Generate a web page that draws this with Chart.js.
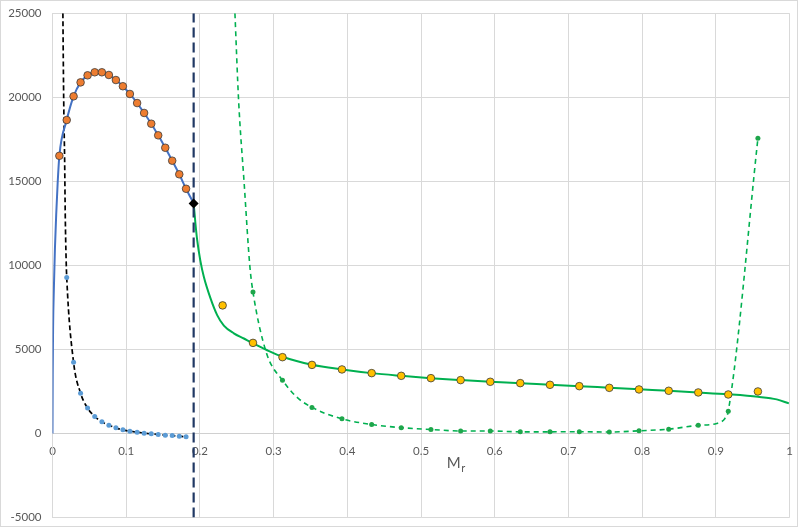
<!DOCTYPE html>
<html>
<head>
<meta charset="utf-8">
<script src="https://cdn.jsdelivr.net/npm/chart.js@4.4.1/dist/chart.umd.min.js"></script>
<style>
  body { margin: 0; background: #fff; }
  canvas { display: block; }
</style>
</head>
<body>
<canvas id="chart" width="800" height="528"></canvas>
<script>
// Punkte der ersten Kurve (orange) und der Ableitung (blau)
const xLeft = [0.0093, 0.0193, 0.0286, 0.0381, 0.0476, 0.0573, 0.0670, 0.0765, 0.0860, 0.0955,
  0.1050, 0.1148, 0.1243, 0.1340, 0.1434, 0.1530, 0.1624, 0.1720, 0.1812];
const orangeY = [16520, 18650, 20060, 20890, 21310, 21490, 21490, 21330, 21030, 20660,
  20200, 19660, 19070, 18430, 17740, 17000, 16230, 15420, 14560];
const blueDotX = xLeft.slice(1);
const blueDotY = [9280, 4230, 2400, 1510, 1010, 690, 494, 333, 214, 137,
  77, 18, -24, -60, -101, -125, -161, -202];

// Angepasste Kurve links (blau, durchgezogen)
const blueLineX = [0, 0.0003, 0.0008, 0.0019, 0.0033, 0.0050, 0.0070].concat(xLeft, [0.1915]);
const blueLineY = [0, 3500, 6300, 8700, 11000, 13000, 14900].concat(orangeY, [13690]);

// Schwarze gestrichelte Kurve
const blackDashX = [0.0141, 0.0148, 0.0156, 0.0164, 0.0173, 0.0184].concat(blueDotX);
const blackDashY = [25000, 21500, 18500, 16500, 13000, 10500].concat(blueDotY);

// Grenze
const boundaryX = 0.1915;
const boundaryY = 13690;

// Rechte Seite: gelbe Punkte und gruene Punkte
const xRight = [0.2308, 0.2720, 0.3120, 0.3520, 0.3927, 0.4330, 0.4731, 0.5134, 0.5537, 0.5939,
  0.6346, 0.6749, 0.7147, 0.7554, 0.7957, 0.8360, 0.8761, 0.9168, 0.9570];
const goldY = [7620, 5390, 4540, 4080, 3810, 3590, 3430, 3290, 3175, 3075,
  2995, 2895, 2815, 2715, 2620, 2540, 2440, 2320, 2500];
const greenDotX = xRight.slice(1);
const greenDotY = [8410, 3170, 1550, 870, 535, 345, 237, 147, 147, 97,
  97, 105, 87, 157, 256, 485, 1327, 17560];

// Gruene Kurve (durchgezogen)
const greenLineX = [0.1915, 0.1940, 0.1963, 0.2005, 0.2053, 0.2144, 0.2234, 0.2325, 0.2460, 0.2596,
  0.2727, 0.2913, 0.3130, 0.3520, 0.3930, 0.4330, 0.4730, 0.5130, 0.5540, 0.5940,
  0.6350, 0.6750, 0.7150, 0.7550, 0.7960, 0.8360, 0.8760, 0.9170, 0.9570, 0.9825, 0.9990];
const greenLineY = [13690, 12450, 11500, 10300, 9325, 8036, 7044, 6420, 5960, 5650,
  5350, 4950, 4550, 4090, 3810, 3590, 3430, 3290, 3175, 3075,
  2995, 2900, 2815, 2720, 2625, 2540, 2440, 2330, 2185, 2030, 1790];

// Gruene gestrichelte Kurve
const greenDashX = [0.2475, 0.2525, 0.2600, 0.2678, 0.2720, 0.2905, 0.3120, 0.3310, 0.3520, 0.3927,
  0.4330, 0.4731, 0.5134, 0.5537, 0.5939, 0.6346, 0.6749, 0.7147, 0.7554, 0.7957,
  0.8360, 0.8761, 0.9011, 0.9123, 0.9168, 0.9570];
const greenDashY = [25000, 19800, 14900, 9920, 8410, 4760, 3170, 2180, 1550, 870,
  535, 345, 237, 147, 147, 97, 97, 105, 87, 157,
  256, 485, 595, 893, 1327, 17560];

const xTicks = [0, 0.1, 0.2, 0.3, 0.4, 0.5, 0.6, 0.7, 0.8, 0.9, 1];
const yTicks = [-5000, 0, 5000, 10000, 15000, 20000, 25000];

const toPoints = (xs, ys) => xs.map((x, i) => ({ x: x, y: ys[i] }));

const textColor = "#595959";
const gridColor = "#D9D9D9";
const fontFamily = "Lato, 'Open Sans', sans-serif";

// Achsentitel M_r und Rahmen
const extras = {
  id: "extras",
  afterDraw(chart) {
    const ctx = chart.ctx;
    const xs = chart.scales.x;
    const px = xs.getPixelForValue(0.535);
    ctx.save();
    ctx.fillStyle = textColor;
    ctx.textBaseline = "alphabetic";
    ctx.textAlign = "left";
    ctx.font = "15px " + fontFamily;
    ctx.fillText("M", px, 468);
    const w = ctx.measureText("M").width;
    ctx.font = "11px " + fontFamily;
    ctx.fillText("r", px + w + 0.5, 472);
    ctx.strokeStyle = gridColor;
    ctx.lineWidth = 1;
    ctx.strokeRect(0.5, 0.5, 797, 526);
    ctx.restore();
  },
};

const lineSet = (data, color, width, dash) => ({
  data: data,
  showLine: true,
  borderColor: color,
  borderWidth: width,
  borderDash: dash,
  pointRadius: 0,
  pointHoverRadius: 0,
  cubicInterpolationMode: "monotone",
  fill: false,
});

const dotSet = (data, color, radius, border, style) => ({
  data: data,
  showLine: false,
  backgroundColor: color,
  borderColor: border || color,
  borderWidth: border ? 0.8 : 0,
  pointRadius: radius,
  pointHoverRadius: radius,
  pointStyle: style || "circle",
});

const chart = new Chart(document.getElementById("chart"), {
  type: "scatter",
  data: {
    datasets: [
      dotSet([{ x: boundaryX, y: boundaryY }], "#000000", 5, null, "rectRot"),
      dotSet(toPoints(xLeft, orangeY), "#ED7D31", 3.8, "#3A3A3A"),
      dotSet(toPoints(xRight, goldY), "#FFC000", 3.8, "#3A3A3A"),
      dotSet(toPoints(blueDotX, blueDotY), "#5B9BD5", 2.5),
      dotSet(toPoints(greenDotX, greenDotY), "#1EA64B", 2.5),
      Object.assign(lineSet([{ x: boundaryX, y: -5000 }, { x: boundaryX, y: 25000 }], "#203864", 2.2, [10, 5]),
        { cubicInterpolationMode: "default", tension: 0 }),
      lineSet(toPoints(blueLineX, blueLineY), "#4472C4", 2, []),
      lineSet(toPoints(blackDashX, blackDashY), "#000000", 1.7, [5, 3]),
      lineSet(toPoints(greenLineX, greenLineY), "#00B050", 2, []),
      lineSet(toPoints(greenDashX, greenDashY), "#00B050", 1.6, [5, 4]),
    ],
  },
  options: {
    responsive: false,
    animation: false,
    devicePixelRatio: 1,
    layout: { padding: { left: 0, top: 13.3, right: 10.4, bottom: 10.5 } },
    plugins: {
      legend: { display: false },
      tooltip: { enabled: false },
    },
    scales: {
      x: {
        type: "linear",
        position: { y: 0 },
        min: 0,
        max: 1,
        afterBuildTicks: (scale) => {
          scale.ticks = xTicks.map((v) => ({ value: v }));
        },
        ticks: {
          color: textColor,
          font: { family: fontFamily, size: 11.5 },
          padding: 0,
          maxRotation: 0,
          callback: (v) => String(Math.round(v * 10) / 10),
        },
        grid: { color: gridColor, drawTicks: true, tickLength: 11, tickColor: "rgba(0,0,0,0)" },
        border: { color: "#D0D0D0" },
      },
      y: {
        type: "linear",
        min: -5000,
        max: 25000,
        afterBuildTicks: (scale) => {
          scale.ticks = yTicks.map((v) => ({ value: v }));
        },
        afterFit: (scale) => {
          scale.width = 52.5;
        },
        ticks: {
          color: textColor,
          font: { family: fontFamily, size: 11.5 },
          padding: 0,
          callback: (v) => String(v),
        },
        grid: { color: gridColor, drawTicks: true, tickLength: 11, tickColor: "rgba(0,0,0,0)" },
        border: { color: gridColor },
      },
    },
  },
  plugins: [extras],
});
</script>
</body>
</html>
